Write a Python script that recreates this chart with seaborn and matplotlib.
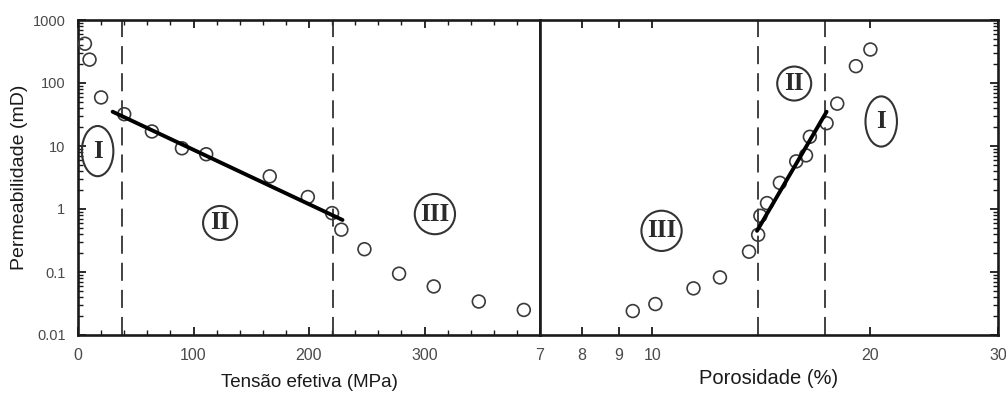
import numpy as np
import pandas as pd
import matplotlib
matplotlib.use("Agg")
import matplotlib.pyplot as plt
import seaborn as sns
from matplotlib.ticker import FixedLocator, NullLocator, LogLocator, NullFormatter, FixedFormatter, MultipleLocator

# ---------------- data ----------------
stress_mpa = [6, 10, 20, 40, 64, 90, 111, 166, 199, 220, 228, 248, 278, 308, 347, 386]
perm_stress_md = [420, 235, 59, 32, 17, 9.2, 7.4, 3.3, 1.55, 0.86, 0.47, 0.23, 0.094, 0.059, 0.034, 0.025]
fit_stress_x = [30, 229]
fit_stress_y = [35, 0.67]
stress_bounds = [38, 221]

porosity_pct = [9.4, 10.1, 11.4, 12.4, 13.6, 14.0, 14.1, 14.4, 15.0, 15.8, 16.3, 16.5, 17.4, 18.0, 19.1, 20.0]
perm_poro_md = [0.024, 0.031, 0.055, 0.082, 0.21, 0.39, 0.78, 1.24, 2.6, 5.7, 7.1, 14, 23, 47, 185, 340]
fit_poro_x = [13.95, 17.4]
fit_poro_y = [0.45, 35]
poro_bounds = [14.0, 17.3]

y_ticks = [0.01, 0.1, 1, 10, 100, 1000]
y_tick_labels = ["0.01", "0.1", "1", "10", "100", "1000"]
stress_ticks = [0, 100, 200, 300]
stress_tick_labels = ["0", "100", "200", "300"]
poro_ticks = [7, 8, 9, 10, 20, 30]
poro_tick_labels = ["7", "8", "9", "10", "20", "30"]

stress_regions = ["I", "II", "III"]
stress_region_x = [17, 123, 309]
stress_region_y = [8.3, 0.6, 0.83]
poro_regions = ["III", "II", "I"]
poro_region_x = [10.3, 15.7, 20.7]
poro_region_y = [0.45, 98, 24.5]

xlabel_stress = "Tensão efetiva (MPa)"
xlabel_poro = "Porosidade (%)"
ylabel = "Permeabilidade (mD)"

# ---------------- style ----------------
sns.set_theme(style="ticks")
sans = ["Liberation Sans Narrow", "Liberation Sans", "DejaVu Sans"]
plt.rcParams["font.family"] = sans

W, H = 1006, 396
fig = plt.figure(figsize=(W / 100, H / 100), dpi=100)
fig.patch.set_facecolor("white")
bottom = (H - 335) / H
height = 315 / H
ax1 = fig.add_axes([78 / W, bottom, 462 / W, height])
ax2 = fig.add_axes([540 / W, bottom, 458 / W, height])

ink = "#1a1a1a"
tick_col = "#4a4a4a"


def draw(ax, x, y, fx, fy, bounds, regions, rx, ry):
    sns.scatterplot(x=x, y=y, ax=ax, marker="o", s=85, facecolors="none",
                    edgecolors="#3a3a3a", linewidths=1.2, zorder=3)
    sns.lineplot(x=fx, y=fy, ax=ax, color="black", lw=2.8, zorder=4)
    for b in bounds:
        ax.axvline(b, color="#333333", lw=1.3, dashes=(10, 5), zorder=2)
    for lab, xx, yy in zip(regions, rx, ry):
        style = "ellipse,pad=0.25" if lab == "I" else "circle,pad=0.22"
        ax.text(xx, yy, lab, ha="center", va="center", fontsize=18,
                family=["Liberation Serif", "DejaVu Serif"], color="#2a2a2a",
                fontweight="bold",
                bbox=dict(boxstyle=style, fc="none", ec="#333333", lw=1.5))
    ax.set_yscale("log")
    ax.set_ylim(0.01, 1000)
    for s in ax.spines.values():
        s.set_visible(True)
        s.set_linewidth(1.9)
        s.set_color(ink)


draw(ax1, stress_mpa, perm_stress_md, fit_stress_x, fit_stress_y, stress_bounds,
     stress_regions, stress_region_x, stress_region_y)
draw(ax2, porosity_pct, perm_poro_md, fit_poro_x, fit_poro_y, poro_bounds,
     poro_regions, poro_region_x, poro_region_y)

# left panel axes
ax1.set_xlim(0, 400)
ax1.xaxis.set_major_locator(FixedLocator(stress_ticks))
ax1.xaxis.set_major_formatter(FixedFormatter(stress_tick_labels))
ax1.xaxis.set_minor_locator(MultipleLocator(20))
ax1.yaxis.set_major_locator(FixedLocator(y_ticks))
ax1.yaxis.set_major_formatter(FixedFormatter(y_tick_labels))
ax1.yaxis.set_minor_locator(LogLocator(base=10, subs=np.arange(2, 10)))
ax1.yaxis.set_minor_formatter(NullFormatter())
ax1.tick_params(which="both", direction="in", top=True, right=False, left=True,
                bottom=True, colors=ink, labelcolor=tick_col)
ax1.tick_params(axis="y", labelsize=10.5)
ax1.tick_params(axis="x", labelsize=11.5)
ax1.tick_params(which="major", length=6, width=1.3, pad=9)
ax1.tick_params(which="minor", length=3.5, width=1.0)
ax1.set_xlabel(xlabel_stress, fontsize=13.5, color=ink, labelpad=8)
ax1.set_ylabel(ylabel, fontsize=14, color=ink, labelpad=3)

# right panel axes
ax2.set_xscale("log")
ax2.set_xlim(7, 30)
ax2.xaxis.set_major_locator(FixedLocator(poro_ticks))
ax2.xaxis.set_major_formatter(FixedFormatter(poro_tick_labels))
ax2.xaxis.set_minor_locator(NullLocator())
ax2.yaxis.set_major_locator(FixedLocator(y_ticks))
ax2.yaxis.set_minor_locator(LogLocator(base=10, subs=np.arange(2, 10)))
ax2.yaxis.set_minor_formatter(NullFormatter())
ax2.tick_params(which="both", direction="in", top=True, right=True, left=False,
                bottom=True, labelleft=False, colors=ink, labelcolor=tick_col)
ax2.tick_params(axis="x", labelsize=11.5)
ax2.tick_params(which="major", length=6, width=1.3, pad=9)
ax2.tick_params(which="minor", length=3.5, width=1.0)
ax2.set_xlabel(xlabel_poro, fontsize=14.5, color=ink, labelpad=5)
ax2.set_ylabel("")

fig.savefig("out.png", dpi=100, facecolor="white")
